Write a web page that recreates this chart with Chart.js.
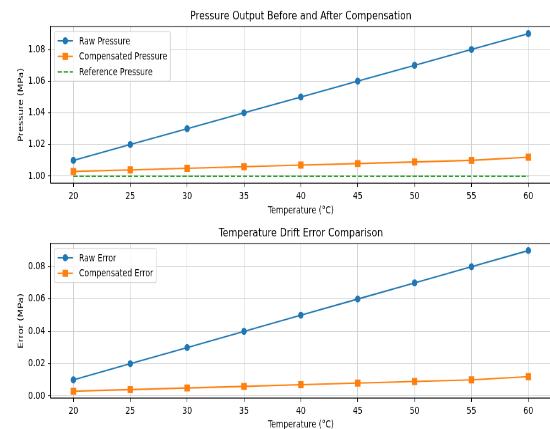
<!DOCTYPE html>
<html>
<head>
<meta charset="utf-8">
<script src="https://cdn.jsdelivr.net/npm/chart.js@4.4.1/dist/chart.umd.min.js"></script>
<style>
html, body { margin: 0; padding: 0; background: #fff; overflow: hidden; width: 550px; height: 429px; }
/* the figure is drawn at 1000x600 and squeezed into the window, like the picture */
canvas { position: absolute; left: 0; width: 555.5px !important; height: 221.65px !important; }
#topChart { top: 0; }
#bottomChart { top: 214.5px; }
</style>
</head>
<body>
<canvas id="topChart" width="1010" height="310"></canvas>
<canvas id="bottomChart" width="1010" height="310"></canvas>
<script>
'use strict';
// data
let temps = [20, 25, 30, 35, 40, 45, 50, 55, 60];
let rawPressure = [1.01, 1.02, 1.03, 1.04, 1.05, 1.06, 1.07, 1.08, 1.09];
let compPressure = [1.003, 1.004, 1.005, 1.006, 1.007, 1.008, 1.009, 1.010, 1.012];
let refPressure = [1.00, 1.00, 1.00, 1.00, 1.00, 1.00, 1.00, 1.00, 1.00];
let rawError = [0.01, 0.02, 0.03, 0.04, 0.05, 0.06, 0.07, 0.08, 0.09];
let compError = [0.003, 0.004, 0.005, 0.006, 0.007, 0.008, 0.009, 0.010, 0.012];

let tempTicks = [20, 25, 30, 35, 40, 45, 50, 55, 60];
let pressureTicks = [1.00, 1.02, 1.04, 1.06, 1.08];
let errorTicks = [0.00, 0.02, 0.04, 0.06, 0.08];

let BLUE = '#1f77b4';
let ORANGE = '#ff7f0e';
let GREEN = '#2ca02c';
let FONT = '"DejaVu Sans", sans-serif';
let FS = 13.9;   // 10pt at 100 dpi

function pts(xs, ys) {
    return xs.map((x, i) => ({ x: x, y: ys[i] }));
}

// spines on all four sides + title centred over the axes
let framePlugin = {
    id: 'frame',
    afterDraw(chart, args, opts) {
        let a = chart.chartArea, ctx = chart.ctx;
        ctx.save();
        ctx.strokeStyle = '#000';
        ctx.lineWidth = 1.1;
        ctx.strokeRect(a.left, a.top, a.right - a.left, a.bottom - a.top);
        ctx.fillStyle = '#000';
        ctx.font = '16.7px ' + FONT;
        ctx.textAlign = 'center';
        ctx.textBaseline = 'middle';
        ctx.fillText(opts.text, (a.left + a.right) / 2, opts.y);
        ctx.restore();
    }
};

// matplotlib style legend, upper left inside the axes
let boxLegend = {
    id: 'boxLegend',
    afterDraw(chart) {
        let ctx = chart.ctx, a = chart.chartArea;
        let sets = chart.data.datasets;
        ctx.save();
        ctx.font = FS + 'px ' + FONT;
        let w = 0;
        sets.forEach(d => { w = Math.max(w, ctx.measureText(d.label).width); });
        let x = a.left + 7, y = a.top + 7;
        let rowH = 21.7;
        let bw = 44.5 + w + 5.6, bh = 11.2 + sets.length * 14.8 + (sets.length - 1) * 6.9;
        ctx.fillStyle = 'rgba(255,255,255,0.8)';
        ctx.strokeStyle = '#cccccc';
        ctx.lineWidth = 1.1;
        ctx.beginPath();
        ctx.roundRect(x, y, bw, bh, 3);
        ctx.fill();
        ctx.stroke();
        sets.forEach((d, i) => {
            let cy = y + 13 + i * rowH;
            ctx.strokeStyle = d.borderColor;
            ctx.lineWidth = d.borderWidth;
            ctx.setLineDash(d.borderDash || []);
            ctx.beginPath();
            ctx.moveTo(x + 5.6, cy);
            ctx.lineTo(x + 33.4, cy);
            ctx.stroke();
            ctx.setLineDash([]);
            if (d.pointRadius > 0) {
                ctx.fillStyle = d.backgroundColor;
                ctx.strokeStyle = d.borderColor;
                ctx.lineWidth = d.pointBorderWidth;
                Chart.helpers.drawPoint(ctx, { pointStyle: d.pointStyle, radius: d.pointRadius, borderWidth: d.pointBorderWidth }, x + 19.5, cy);
            }
            ctx.fillStyle = '#000';
            ctx.textBaseline = 'middle';
            ctx.textAlign = 'left';
            ctx.fillText(d.label, x + 44.5, cy + 1);
        });
        ctx.restore();
    }
};

function lineSet(label, data, color, style, radius, dash) {
    return {
        label: label,
        data: data,
        borderColor: color,
        backgroundColor: color,
        borderWidth: 2.1,
        pointStyle: style,
        pointRadius: radius,
        pointBorderWidth: 1.4,
        borderDash: dash || [],
        tension: 0
    };
}

function makeChart(id, title, titleY, top, bottom, yLabel, yMin, yMax, yTicks, datasets) {
    let cv = document.getElementById(id);
    return new Chart(cv, {
        type: 'line',
        data: { datasets: datasets },
        options: {
            responsive: false,
            animation: false,
            layout: { padding: { left: 0, right: 9, top: top, bottom: 0 } },
            plugins: {
                legend: { display: false },
                tooltip: { enabled: false },
                title: { display: false },
                frame: { text: title, y: titleY }
            },
            scales: {
                x: {
                    type: 'linear',
                    min: 18,
                    max: 62,
                    afterFit(s) { s.height = cv.height - bottom; },
                    afterBuildTicks(s) { s.ticks = tempTicks.map(v => ({ value: v })); },
                    grid: { color: '#cfcfcf', lineWidth: 1.1, tickColor: '#000', tickLength: 5 },
                    border: { color: '#000', width: 1.1 },
                    ticks: { color: '#000', padding: 5, maxRotation: 0, font: { family: FONT, size: FS } },
                    title: { display: true, text: 'Temperature (°C)', color: '#000', padding: { top: 7.7, bottom: 7.7 }, font: { family: FONT, size: FS } }
                },
                y: {
                    min: yMin,
                    max: yMax,
                    afterFit(s) { s.width = 92; },
                    afterBuildTicks(s) { s.ticks = yTicks.map(v => ({ value: v })); },
                    grid: { color: '#cfcfcf', lineWidth: 1.1, tickColor: '#000', tickLength: 5 },
                    border: { color: '#000', width: 1.1 },
                    ticks: { color: '#000', padding: 5, font: { family: FONT, size: FS }, callback: v => v.toFixed(2) },
                    title: { display: true, text: yLabel, color: '#000', padding: { top: 30, bottom: 0 }, font: { family: FONT, size: FS } }
                }
            }
        },
        plugins: [framePlugin, boxLegend]
    });
}

makeChart('topChart', 'Pressure Output Before and After Compensation', 22.4, 37, 256,
    'Pressure (MPa)', 0.9955, 1.0945, pressureTicks, [
        lineSet('Raw Pressure', pts(temps, rawPressure), BLUE, 'circle', 4.2),
        lineSet('Compensated Pressure', pts(temps, compPressure), ORANGE, 'rect', 6),
        lineSet('Reference Pressure', pts(temps, refPressure), GREEN, 'circle', 0, [7.7, 3.3])
    ]);

makeChart('bottomChart', 'Temperature Drift Error Comparison', 26, 40, 257,
    'Error (MPa)', -0.00135, 0.09435, errorTicks, [
        lineSet('Raw Error', pts(temps, rawError), BLUE, 'circle', 4.2),
        lineSet('Compensated Error', pts(temps, compError), ORANGE, 'rect', 6)
    ]);
</script>
</body>
</html>
